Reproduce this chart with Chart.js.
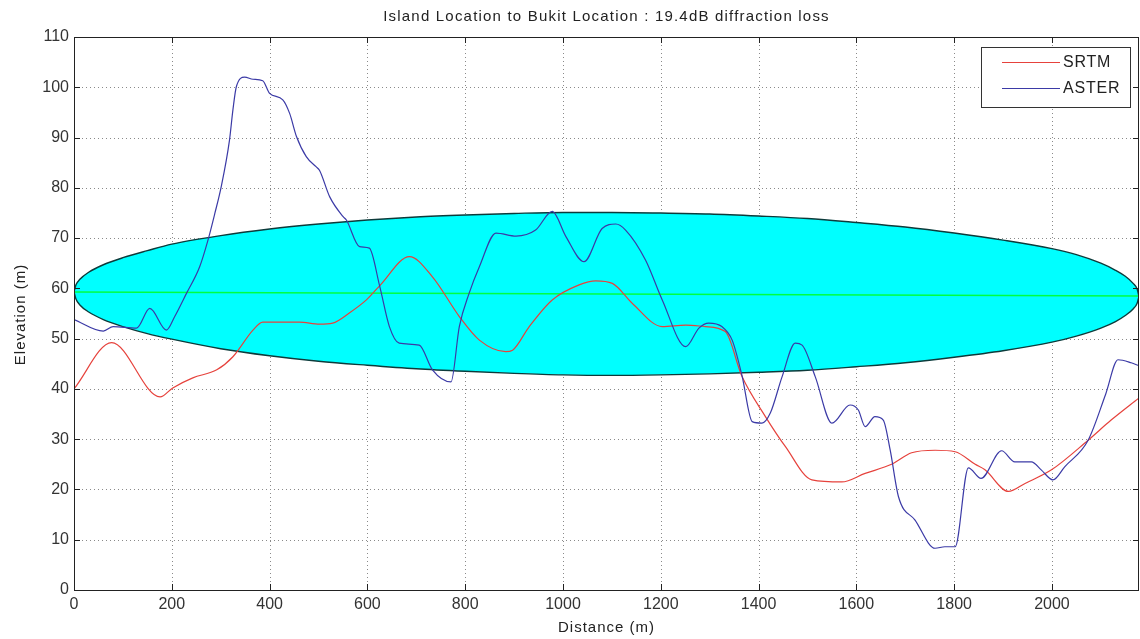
<!DOCTYPE html>
<html>
<head>
<meta charset="utf-8">
<script src="https://cdn.jsdelivr.net/npm/chart.js@4.4.1/dist/chart.umd.min.js"></script>
<style>
  html, body { margin: 0; background: #fff; }
  #wrap { width: 1140px; height: 639px; }
</style>
</head>
<body>
<div id="wrap"><canvas id="c" width="1140" height="639"></canvas></div>
<script>
// valeurs
const srtmDist = [0, 77, 176, 202, 243, 292, 325, 366, 386, 461, 502, 529, 563, 598, 625, 686, 733, 788, 829, 883, 897, 931, 978, 1033, 1067, 1101, 1142, 1203, 1251, 1291, 1332, 1366, 1414, 1455, 1509, 1570, 1618, 1672, 1713, 1761, 1802, 1843, 1863, 1911, 1945, 1999, 2074, 2121, 2178];
const srtmElev = [40.0, 49.2, 38.4, 40.2, 42.2, 43.8, 46.4, 51.7, 53.3, 53.3, 52.9, 53.1, 55.1, 57.7, 60.5, 66.3, 62.3, 54.4, 49.7, 47.4, 47.7, 52.4, 57.7, 60.7, 61.5, 61.0, 57.0, 52.4, 52.7, 52.4, 51.4, 42.5, 34.5, 28.5, 21.9, 21.5, 23.2, 25.0, 27.3, 27.8, 27.5, 25.0, 23.9, 19.6, 21.2, 23.9, 29.8, 33.8, 38.2];

const asterDist = [0, 60, 80, 128, 155, 189, 206, 230, 257, 274, 288, 301, 318, 325, 332, 349, 366, 386, 400, 427, 441, 455, 475, 495, 502, 523, 550, 557, 584, 604, 625, 645, 665, 706, 733, 771, 788, 808, 829, 863, 904, 944, 978, 1006, 1043, 1080, 1108, 1128, 1169, 1203, 1251, 1278, 1298, 1325, 1346, 1366, 1387, 1407, 1424, 1448, 1475, 1489, 1516, 1550, 1587, 1604, 1618, 1638, 1655, 1669, 1686, 1720, 1761, 1781, 1802, 1829, 1855, 1897, 1924, 1958, 1978, 2002, 2026, 2074, 2110, 2135, 2162, 2178];
const asterElev = [53.8, 51.5, 52.4, 52.1, 56.0, 51.7, 54.4, 59.0, 64.3, 69.6, 74.9, 80.2, 89.5, 95.5, 100.1, 102.0, 101.6, 101.3, 98.8, 97.5, 94.8, 90.2, 86.2, 84.2, 83.5, 78.2, 74.3, 73.6, 68.3, 68.0, 60.5, 52.4, 49.1, 48.7, 43.8, 41.4, 52.4, 59.0, 64.3, 71.0, 70.4, 71.6, 75.3, 70.3, 65.3, 71.9, 72.8, 71.6, 65.6, 57.7, 48.4, 52.1, 53.1, 52.4, 49.7, 42.7, 33.5, 33.2, 35.2, 42.4, 49.1, 48.7, 42.4, 33.2, 36.8, 35.8, 32.5, 34.5, 33.8, 27.9, 18.6, 13.9, 8.3, 8.6, 8.6, 24.3, 22.2, 27.7, 25.5, 25.5, 23.9, 21.9, 24.5, 29.8, 39.0, 45.8, 45.2, 44.6];

// zone de Fresnel (bords haut / bas) et ligne de visée
const zoneDist  = [0, 4, 12, 30, 60, 100, 150, 200, 300, 400, 500, 600, 700, 800, 900, 1000, 1100, 1200, 1300, 1400, 1500, 1600, 1700, 1800, 1900, 2000, 2050, 2100, 2130, 2150, 2166, 2174, 2178];
const zoneUpper = [59.3, 60.7, 61.8, 63.2, 64.7, 66.1, 67.5, 68.8, 70.5, 71.8, 72.8, 73.6, 74.2, 74.6, 74.9, 75.1, 75.1, 75.0, 74.8, 74.4, 73.9, 73.1, 72.2, 71.0, 69.6, 67.9, 66.7, 65.0, 63.6, 62.4, 61.0, 59.9, 58.4];
const zoneLower = [59.3, 57.9, 56.7, 55.3, 53.8, 52.4, 51.0, 49.9, 48.0, 46.6, 45.5, 44.7, 44.0, 43.5, 43.1, 42.8, 42.7, 42.8, 43.0, 43.3, 43.7, 44.4, 45.2, 46.3, 47.6, 49.3, 50.5, 52.1, 53.4, 54.6, 55.9, 57.0, 58.4];
const losDist = [0, 2178];
const losElev = [59.3, 58.5];

const xTicks = [0, 200, 400, 600, 800, 1000, 1200, 1400, 1600, 1800, 2000];
const yTicks = [0, 10, 20, 30, 40, 50, 60, 70, 80, 90, 100, 110];
const xMax = 2178;
const titleText = 'Island Location to Bukit Location : 19.4dB diffraction loss';
const FONT = '"Liberation Sans", Arial, sans-serif';

const pts = (xs, ys) => xs.map((x, i) => ({ x: x, y: ys[i] }));

// grille pointillée, cadre, petites graduations, légende et textes façon MATLAB
const matlabFrame = {
  id: 'matlabFrame',
  beforeDatasetsDraw(chart) {
    const { ctx, chartArea: a, scales: { x, y } } = chart;
    ctx.save();
    ctx.strokeStyle = '#8a8a8a';
    ctx.lineWidth = 1;
    ctx.setLineDash([1, 3]);
    x.ticks.forEach(t => {
      const px = Math.round(x.getPixelForValue(t.value)) + 0.5;
      ctx.beginPath(); ctx.moveTo(px, a.top); ctx.lineTo(px, a.bottom); ctx.stroke();
    });
    y.ticks.forEach(t => {
      const py = Math.round(y.getPixelForValue(t.value)) + 0.5;
      ctx.beginPath(); ctx.moveTo(a.left, py); ctx.lineTo(a.right, py); ctx.stroke();
    });
    ctx.restore();
  },
  afterDatasetsDraw(chart) {
    const { ctx, chartArea: a, scales: { x, y } } = chart;
    ctx.save();
    ctx.setLineDash([]);
    ctx.strokeStyle = '#222';
    ctx.lineWidth = 1;
    ctx.strokeRect(a.left + 0.5, a.top + 0.5, a.right - a.left - 1, a.bottom - a.top);
    const tl = 6;
    ctx.beginPath();
    x.ticks.forEach(t => {
      const px = Math.round(x.getPixelForValue(t.value)) + 0.5;
      ctx.moveTo(px, a.bottom); ctx.lineTo(px, a.bottom - tl);
      ctx.moveTo(px, a.top); ctx.lineTo(px, a.top + tl);
    });
    y.ticks.forEach(t => {
      const py = Math.round(y.getPixelForValue(t.value)) + 0.5;
      ctx.moveTo(a.left, py); ctx.lineTo(a.left + tl, py);
      ctx.moveTo(a.right, py); ctx.lineTo(a.right - tl, py);
    });
    ctx.stroke();

    // légende
    const lx = 981, ly = 47, lw = 149, lh = 60;
    ctx.fillStyle = '#fff';
    ctx.fillRect(lx, ly, lw, lh);
    ctx.strokeStyle = '#333';
    ctx.strokeRect(lx + 0.5, ly + 0.5, lw, lh);
    const items = [['SRTM', chart.data.datasets[0].borderColor, 62], ['ASTER', chart.data.datasets[1].borderColor, 88]];
    ctx.font = '16px ' + FONT;
    ctx.letterSpacing = '0.8px';
    ctx.textBaseline = 'middle';
    ctx.textAlign = 'left';
    items.forEach(([label, col, yy]) => {
      ctx.strokeStyle = col;
      ctx.lineWidth = 1.2;
      ctx.beginPath(); ctx.moveTo(1002, yy + 0.5); ctx.lineTo(1060, yy + 0.5); ctx.stroke();
      ctx.fillStyle = '#222';
      ctx.fillText(label, 1063, yy + 1);
    });

    // titres
    const cx = (a.left + a.right) / 2;
    ctx.fillStyle = '#222';
    ctx.textAlign = 'center';
    ctx.font = '15px ' + FONT;
    ctx.letterSpacing = '1.2px';
    ctx.fillText(titleText, cx, 17);
    ctx.letterSpacing = '1px';
    ctx.fillText('Distance (m)', cx, 628);
    ctx.translate(21, (a.top + a.bottom) / 2 + 1);
    ctx.rotate(-Math.PI / 2);
    ctx.fillText('Elevation (m)', 0, 0);
    ctx.restore();
  }
};

const ctx = document.getElementById('c').getContext('2d');
new Chart(ctx, {
  type: 'line',
  data: {
    datasets: [
      { label: 'SRTM', data: pts(srtmDist, srtmElev), borderColor: '#e6423c', borderWidth: 1.2, pointRadius: 0, fill: false, order: 1, cubicInterpolationMode: 'monotone' },
      { label: 'ASTER', data: pts(asterDist, asterElev), borderColor: '#3b3aa6', borderWidth: 1.2, pointRadius: 0, fill: false, order: 0, cubicInterpolationMode: 'monotone' },
      { label: 'zoneHaut', data: pts(zoneDist, zoneUpper), borderColor: '#0d3b3b', borderWidth: 1.4, backgroundColor: '#00ffff', pointRadius: 0, fill: '+1', order: 4, cubicInterpolationMode: 'monotone' },
      { label: 'zoneBas', data: pts(zoneDist, zoneLower), borderColor: '#0d3b3b', borderWidth: 1.4, pointRadius: 0, fill: false, order: 3, cubicInterpolationMode: 'monotone' },
      { label: 'visee', data: pts(losDist, losElev), borderColor: '#00ff40', borderWidth: 1.5, pointRadius: 0, fill: false, order: 2 }
    ]
  },
  options: {
    responsive: false,
    animation: false,
    layout: { padding: { top: 37, right: 1, left: 0, bottom: 0 } },
    plugins: { legend: { display: false }, title: { display: false }, tooltip: { enabled: false } },
    scales: {
      x: {
        type: 'linear', min: 0, max: xMax,
        afterBuildTicks(s) { s.ticks = xTicks.map(v => ({ value: v })); },
        ticks: { autoSkip: false, maxRotation: 0, padding: 5, color: '#333', font: { family: FONT, size: 16 }, callback: v => String(v) },
        grid: { display: false, drawTicks: false, tickLength: 0 }, border: { display: false },
        afterFit(s) { s.height = 49; }
      },
      y: {
        type: 'linear', min: 0, max: 110,
        afterBuildTicks(s) { s.ticks = yTicks.map(v => ({ value: v })); },
        ticks: { autoSkip: false, padding: 5, color: '#333', font: { family: FONT, size: 16 }, callback: v => String(v) },
        grid: { display: false, drawTicks: false, tickLength: 0 }, border: { display: false },
        afterFit(s) { s.width = 74; }
      }
    }
  },
  plugins: [matlabFrame]
});
</script>
</body>
</html>
